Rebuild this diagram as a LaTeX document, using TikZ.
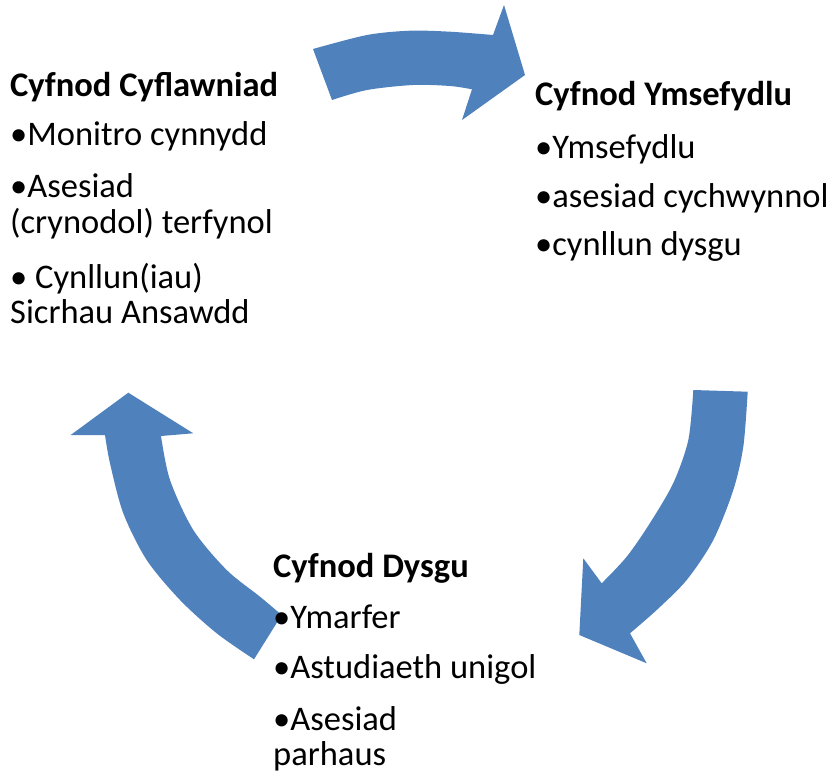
\documentclass[tikz,border=0pt]{standalone}
\usepackage{fontspec}
\setmainfont{Carlito}
\definecolor{arrowblue}{HTML}{4F81BD}
\begin{document}
\begin{tikzpicture}[x=1bp,y=-1bp,
  txt/.style={anchor=base west, inner sep=0pt, font=\fontsize{34.5bp}{37bp}\selectfont},
  ttl/.style={anchor=base west, inner sep=0pt, font=\fontsize{34.5bp}{37bp}\selectfont\bfseries},
  arr/.style={fill=arrowblue}]
\useasboundingbox (0,0) rectangle (829,773);
% top arrow
\fill[arr] (313,49) -- plot[smooth] coordinates {(313,49) (367,35) (410,30.7) (450,31.7) (493,35)}
  -- (504,5) -- (525,75) -- (462,120)
  -- plot[smooth] coordinates {(472,89.3) (450,86) (413,85) (367,90) (332,100)} -- cycle;
% right arrow
\fill[arr] (693.3,390) -- (747.7,391.7)
  -- plot[smooth] coordinates {(747.7,391.7) (743.3,446.7) (733.3,490) (713.3,540) (686.7,580) (656.7,610) (630,633.3)}
  -- (646.7,663.3) -- (579.3,635) -- (583.3,558.3)
  -- plot[smooth] coordinates {(601.7,583.3) (626.7,556.7) (650,523) (673.3,483) (688.3,440) (693.3,390)} -- cycle;
% left arrow
\fill[arr] (254,659.3) -- (281.7,615)
  -- plot[smooth] coordinates {(281.7,615) (260,596.7) (226.7,570) (193.3,530) (170,480) (161,436)}
  -- (193.3,433.3) -- (128.3,392.7) -- (70.7,435)
  -- plot[smooth] coordinates {(105,435) (110,463.3) (123.3,513.3) (146.7,560) (180,600) (216.7,633.3) (254,659.3)} -- cycle;
% left block
\node[ttl] (t1) at (10,96) {Cyfnod Cyflawniad};
\node[txt] (t1a) at (10,145) {•Monitro cynnydd};
\node[txt] (t1b) at (10,197) {•Asesiad};
\node[txt] (t1c) at (10,233) {(crynodol) terfynol};
\node[txt] (t1d) at (10,288) {• Cynllun(iau)};
\node[txt] (t1e) at (10,323) {Sicrhau Ansawdd};
% right block
\node[ttl] (t2) at (535,105) {Cyfnod Ymsefydlu};
\node[txt] (t2a) at (535,158) {•Ymsefydlu};
\node[txt] (t2b) at (535,207) {•asesiad cychwynnol};
\node[txt] (t2c) at (535,255) {•cynllun dysgu};
% bottom block
\node[ttl] (t3) at (273,577) {Cyfnod Dysgu};
\node[txt] (t3a) at (273,628) {•Ymarfer};
\node[txt] (t3b) at (273,678) {•Astudiaeth unigol};
\node[txt] (t3c) at (273,730) {•Asesiad};
\node[txt] (t3d) at (273,765) {parhaus};
\end{tikzpicture}
\end{document}
